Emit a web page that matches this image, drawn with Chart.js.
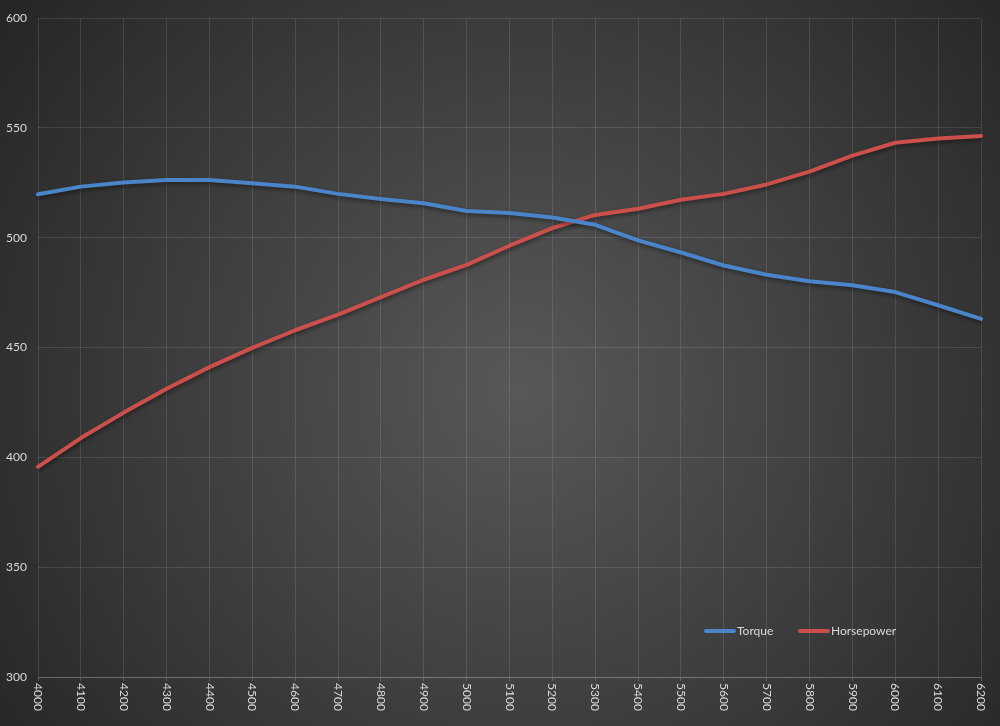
<!DOCTYPE html>
<html>
<head>
<meta charset="utf-8">
<script src="https://cdn.jsdelivr.net/npm/chart.js@4/dist/chart.umd.min.js"></script>
<style>
html,body{margin:0;padding:0;background:#2a2a2a;}
#wrap{width:1000px;height:726px;}
canvas{display:block;}
</style>
</head>
<body>
<div id="wrap"><canvas id="c" width="1000" height="726"></canvas></div>
<script>
const rpm = ['4000','4100','4200','4300','4400','4500','4600','4700','4800','4900','5000','5100','5200','5300','5400','5500','5600','5700','5800','5900','6000','6100','6200'];
const torque = [519.8,523.3,525.2,526.3,526.3,524.8,523.3,520.0,517.7,515.7,512.2,511.3,509.2,505.9,498.8,493.3,487.4,483.2,480.2,478.4,475.3,469.3,463.1];
const horsepower = [395.7,408.8,420.4,431.3,441.1,449.9,457.9,465.0,473.0,480.9,487.7,496.4,504.4,510.4,513.2,517.3,520.0,524.3,530.1,537.4,543.3,545.2,546.4];
const seriesNames = ['Torque','Horsepower'];
const seriesColors = ['#4a84c9','#cb4f4b'];
const yMin = 300, yMax = 600, yStep = 50;

const FONT = '12px Lato, "Open Sans", sans-serif';
const TEXT = '#d9d9d9';

const bgPlugin = {
  id: 'bg',
  beforeDraw(chart) {
    const ctx = chart.ctx;
    const w = chart.width, h = chart.height;
    ctx.save();
    const g = ctx.createRadialGradient(520, 390, 0, 520, 390, 640);
    g.addColorStop(0, '#585858');
    g.addColorStop(1, '#262626');
    ctx.fillStyle = g;
    ctx.fillRect(0, 0, w, h);
    ctx.restore();
  }
};

const shadowPlugin = {
  id: 'shadow',
  beforeDatasetsDraw(chart) {
    const ctx = chart.ctx;
    ctx.save();
    ctx.shadowColor = 'rgba(0,0,0,0.45)';
    ctx.shadowBlur = 4;
    ctx.shadowOffsetX = 1;
    ctx.shadowOffsetY = 2;
  },
  afterDatasetsDraw(chart) {
    chart.ctx.restore();
  }
};

const xLabelPlugin = {
  id: 'xlabels',
  afterDraw(chart) {
    const ctx = chart.ctx;
    const xs = chart.scales.x;
    const area = chart.chartArea;
    ctx.save();
    ctx.font = FONT;
    ctx.fillStyle = TEXT;
    ctx.textAlign = 'left';
    ctx.textBaseline = 'middle';
    rpm.forEach((lab, i) => {
      const x = xs.getPixelForValue(i);
      ctx.save();
      ctx.translate(x, area.bottom + 6);
      ctx.rotate(Math.PI / 2);
      ctx.fillText(lab, 0, 0);
      ctx.restore();
    });
    ctx.restore();
  }
};

const legendPlugin = {
  id: 'customLegend',
  afterDraw(chart) {
    const ctx = chart.ctx;
    ctx.save();
    ctx.font = FONT;
    ctx.textBaseline = 'middle';
    ctx.textAlign = 'left';
    const y = 631;
    const starts = [704, 798];
    chart.data.datasets.forEach((ds, i) => {
      const x0 = starts[i];
      ctx.strokeStyle = ds.borderColor;
      ctx.lineWidth = 4;
      ctx.lineCap = 'round';
      ctx.beginPath();
      ctx.moveTo(x0 + 2, y);
      ctx.lineTo(x0 + 30, y);
      ctx.stroke();
      ctx.fillStyle = TEXT;
      ctx.fillText(ds.label, x0 + 33, y);
    });
    ctx.restore();
  }
};

new Chart(document.getElementById('c'), {
  type: 'line',
  data: {
    labels: rpm,
    datasets: [
      { label: seriesNames[0], data: torque, borderColor: seriesColors[0], backgroundColor: seriesColors[0], borderWidth: 4, pointRadius: 0, tension: 0, borderCapStyle: 'round', borderJoinStyle: 'round' },
      { label: seriesNames[1], data: horsepower, borderColor: seriesColors[1], backgroundColor: seriesColors[1], borderWidth: 4, pointRadius: 0, tension: 0, borderCapStyle: 'round', borderJoinStyle: 'round' }
    ]
  },
  options: {
    responsive: false,
    animation: false,
    devicePixelRatio: 1,
    layout: { padding: { top: 16, right: 19, left: 0, bottom: 0 } },
    plugins: {
      legend: { display: false },
      tooltip: { enabled: false }
    },
    scales: {
      x: {
        offset: false,
        grid: { color: 'rgba(255,255,255,0.11)', lineWidth: 1, drawTicks: true, tickLength: 4, tickColor: 'rgba(255,255,255,0.2)' },
        border: { color: 'rgba(255,255,255,0.2)' },
        ticks: { display: false },
        afterFit(s) { s.height = 49; }
      },
      y: {
        min: yMin, max: yMax,
        grid: { color: 'rgba(255,255,255,0.11)', lineWidth: 1, drawTicks: false },
        border: { display: false },
        ticks: { stepSize: yStep, color: TEXT, font: { family: 'Lato, "Open Sans", sans-serif', size: 12 }, padding: 11 },
        afterFit(s) { s.width = 38; }
      }
    }
  },
  plugins: [bgPlugin, shadowPlugin, xLabelPlugin, legendPlugin]
});
</script>
</body>
</html>
